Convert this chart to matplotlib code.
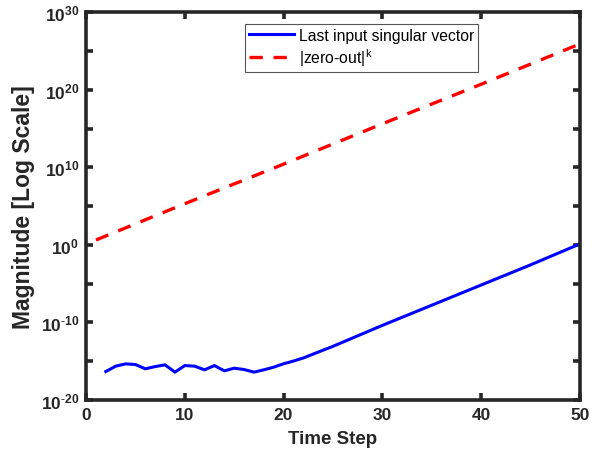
import numpy as np
import matplotlib
matplotlib.use("Agg")
import matplotlib.pyplot as plt
from matplotlib.ticker import FixedLocator, FuncFormatter

# blue curve: time steps and log10 magnitude
blue_t = [2, 3, 4, 5, 6, 7, 8, 9, 10, 11, 12, 13, 14, 15, 16, 17, 18, 19, 20,
          21, 22, 25, 30, 35, 40, 45, 50]
blue_log = [-16.35, -15.66, -15.36, -15.45, -16.0, -15.71, -15.49, -16.43, -15.58,
            -15.66, -16.13, -15.58, -16.26, -15.92, -16.09, -16.43, -16.13, -15.79,
            -15.35, -15.0, -14.6, -13.1, -10.4, -7.8, -5.2, -2.6, 0.1]

# red dashed line: |zero-out|^k
red_t = [1, 10, 20, 30, 40, 50]
red_log = [0.62, 5.3, 10.4, 15.6, 20.7, 25.9]

yticks_major = [-20, -10, 0, 10, 20, 30]
yticks_minor = [-15, -5, 5, 15, 25]
xticks = [0, 10, 20, 30, 40, 50]

plt.rcParams['font.family'] = ['Liberation Sans', 'DejaVu Sans']
plt.rcParams['mathtext.fontset'] = 'custom'
plt.rcParams['mathtext.rm'] = 'Liberation Sans'
plt.rcParams['mathtext.bf'] = 'Liberation Sans:bold'


def log_label(v, pos):
    e = int(round(np.log10(v)))
    if e < 0:
        return r'$\mathbf{10^{\text{-}%d}}$' % (-e)
    return r'$\mathbf{10^{%d}}$' % e


fig = plt.figure(figsize=(6.02, 4.56), dpi=100)
ax = fig.add_axes([0.143, 0.121, 0.820, 0.850])

ax.plot(blue_t, 10.0 ** np.array(blue_log), color='#0000ff', lw=2.2,
        label='Last input singular vector')
ax.plot(red_t, 10.0 ** np.array(red_log), color='#ff0000', lw=2.4,
        linestyle=(0, (4, 3.2)), label=r'|zero-out|$^{\mathrm{k}}$')

ax.set_yscale('log')
ax.set_xlim(0, 50)
ax.set_ylim(1e-20, 1e30)

ax.xaxis.set_major_locator(FixedLocator(xticks))
ax.yaxis.set_major_locator(FixedLocator([10.0 ** v for v in yticks_major]))
ax.yaxis.set_minor_locator(FixedLocator([10.0 ** v for v in yticks_minor]))
ax.yaxis.set_major_formatter(FuncFormatter(log_label))
ax.yaxis.set_minor_formatter(FuncFormatter(lambda v, p: ''))

dark = '#262626'
for s in ax.spines.values():
    s.set_linewidth(2.6)
    s.set_color(dark)

ax.tick_params(which='both', direction='in', top=True, right=True,
               width=2.6, color=dark, labelsize=12.5, labelcolor=dark, pad=5)
ax.tick_params(which='major', length=5)
ax.tick_params(which='minor', length=5)
for lab in ax.get_xticklabels():
    lab.set_fontweight('bold')

ax.set_xlabel('Time Step', fontsize=13.5, fontweight='bold', color=dark, labelpad=6)
ax.set_ylabel('Magnitude [Log Scale]', fontsize=16.5, fontweight='bold', color=dark,
              labelpad=4)

leg = ax.legend(loc='upper left', bbox_to_anchor=(0.322, 0.97), fontsize=11.3,
                handlelength=2.9, handletextpad=0.3, borderpad=0.25,
                labelspacing=0.2, fancybox=False, framealpha=1, borderaxespad=0)
leg.get_frame().set_edgecolor('#555555')
leg.get_frame().set_linewidth(0.8)

fig.savefig('out.png', dpi=100)
